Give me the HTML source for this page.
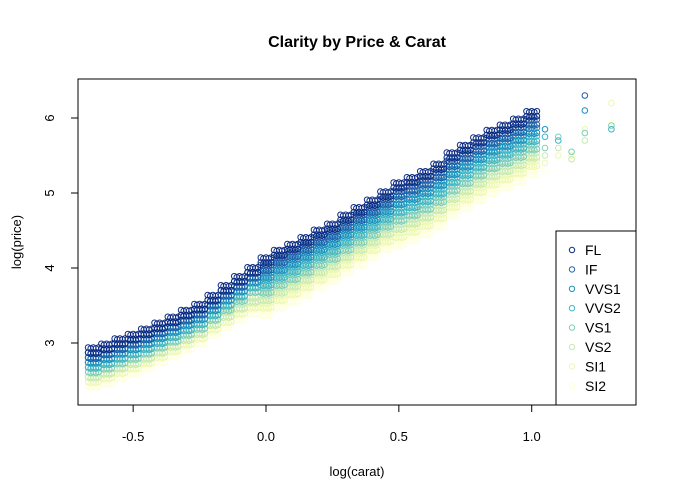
<!DOCTYPE html>
<html><head><meta charset="utf-8"><style>
html,body{margin:0;padding:0;background:#fff}
svg{display:block;font-family:"Liberation Sans",Arial,sans-serif}
</style></head><body>
<svg id="chart" width="675" height="502" viewBox="0 0 675 502">
<rect width="675" height="502" fill="#fff"/>
<text x="357" y="47" text-anchor="middle" font-size="16" font-weight="bold">Clarity by Price &amp; Carat</text>
<g id="points"></g>
<rect x="78" y="79" width="558" height="326" fill="none" stroke="#000"/>
<g id="xaxis"></g>
<g id="yaxis"></g>
<text x="357" y="476" text-anchor="middle" font-size="13">log(carat)</text>
<text transform="translate(21,242) rotate(-90)" text-anchor="middle" font-size="13">log(price)</text>
<g id="legend">
<rect x="556" y="231" width="80" height="174" fill="#fff" stroke="#000"/>
</g>
</svg>
<script>
const carat=[-0.65,-0.60,-0.55,-0.50,-0.45,-0.40,-0.35,-0.30,-0.25,-0.20,-0.15,-0.10,-0.05,0.00,0.05,0.10,0.15,0.20,0.25,0.30,0.35,0.40,0.45,0.50,0.55,0.60,0.65,0.70,0.75,0.80,0.85,0.90,0.95,1.00,1.05,1.10,1.15,1.20,1.25,1.30];
const clarities=["FL","IF","VVS1","VVS2","VS1","VS2","SI1","SI2"];
const colors=["#0C2C84","#225EA8","#1D91C0","#41B6C4","#7FCDBB","#C7E9B4","#EDF8B1","#FFFFD9"];
const priceFL=[2.90,2.95,3.02,3.08,3.15,3.23,3.31,3.40,3.48,3.60,3.73,3.85,3.97,4.10,4.20,4.28,4.37,4.47,4.55,4.67,4.77,4.87,4.98,5.10,5.17,5.25,5.35,5.50,5.60,5.70,5.80,5.87,5.95,6.05,null,null,null,null,null,null];
const priceIF=[2.83,2.88,2.95,3.01,3.08,3.16,3.24,3.33,3.41,3.53,3.66,3.78,3.90,4.00,4.10,4.18,4.27,4.37,4.45,4.57,4.67,4.77,4.88,4.99,5.06,5.14,5.24,5.39,5.49,5.59,5.69,5.76,5.84,5.94,null,null,null,6.30,null,null];
const priceVVS1=[2.77,2.82,2.89,2.95,3.02,3.10,3.18,3.27,3.35,3.47,3.60,3.72,3.84,3.90,4.00,4.08,4.17,4.27,4.35,4.47,4.57,4.67,4.78,4.88,4.95,5.03,5.13,5.28,5.38,5.48,5.58,5.65,5.73,5.83,5.85,null,null,6.10,null,null];
const priceVVS2=[2.70,2.75,2.82,2.88,2.95,3.03,3.11,3.20,3.28,3.40,3.53,3.65,3.77,3.80,3.90,3.98,4.07,4.17,4.25,4.37,4.47,4.57,4.68,4.77,4.84,4.92,5.02,5.17,5.27,5.37,5.47,5.54,5.62,5.72,5.75,5.70,null,null,null,5.85];
const priceVS1=[2.64,2.69,2.76,2.82,2.89,2.97,3.05,3.14,3.22,3.34,3.47,3.59,3.71,3.70,3.80,3.88,3.97,4.07,4.15,4.27,4.37,4.47,4.58,4.66,4.73,4.81,4.91,5.06,5.16,5.26,5.36,5.43,5.51,5.61,5.60,5.75,5.55,5.80,null,5.90];
const priceVS2=[2.57,2.62,2.69,2.75,2.82,2.90,2.98,3.07,3.15,3.27,3.38,3.49,3.58,3.60,3.70,3.78,3.87,3.97,4.05,4.17,4.27,4.37,4.48,4.55,4.62,4.70,4.80,4.95,5.05,5.15,5.25,5.32,5.40,5.50,5.50,5.60,5.45,5.70,null,null];
const priceSI1=[2.51,2.56,2.63,2.69,2.76,2.84,2.92,3.01,3.09,3.21,3.31,3.42,3.50,3.50,3.60,3.68,3.77,3.87,3.95,4.07,4.17,4.27,4.38,4.44,4.51,4.59,4.69,4.84,4.94,5.04,5.14,5.21,5.29,5.39,5.40,5.50,5.50,5.85,null,6.20];
const priceSI2=[2.44,2.49,2.56,2.62,2.69,2.77,2.85,2.94,3.02,3.13,3.24,3.34,3.42,3.40,3.50,3.58,3.67,3.77,3.85,3.97,4.07,4.17,4.28,4.33,4.40,4.48,4.58,4.73,4.83,4.93,5.03,5.10,5.18,5.28,5.30,null,null,null,null,5.95];
const xTicks=[-0.5,0.0,0.5,1.0];
const xTickLabels=["-0.5","0.0","0.5","1.0"];
const yTicks=[3,4,5,6];
const yTickLabels=["3","4","5","6"];

const NS="http://www.w3.org/2000/svg";
const series=[priceFL,priceIF,priceVVS1,priceVVS2,priceVS1,priceVS2,priceSI1,priceSI2];
function xs(v){return 266+v*265.7;}
function ys(v){return 568-v*75;}
function mk(tag,attrs,parent){const e=document.createElementNS(NS,tag);for(const k in attrs)e.setAttribute(k,attrs[k]);parent.appendChild(e);return e;}

const pg=document.getElementById('points');
const offs=[[-5.2,-3],[-2.6,3],[0,-3],[2.6,3],[5.2,-3],[-5.2,2],[-2.6,-2],[0,2],[2.6,-2],[5.2,2]];
for(let s=series.length-1;s>=0;s--){
  const g=mk('g',{},pg);
  
  
  series[s].forEach((v,i)=>{
    if(v===null)return;
    const cx=xs(carat[i]),cy=ys(v);
    const sparse=carat[i]>1.0;
    (sparse?[[0,0]]:offs).forEach(o=>{
      const c=mk('circle',{cx:cx+o[0],cy:cy+o[1],r:2.8,fill:'none',stroke:colors[s],'stroke-width':1},g);
      
      
    });
  });
}
const xa=document.getElementById('xaxis');
xTicks.forEach((t,i)=>{
  const x=xs(t);
  const l=mk('line',{x1:x,x2:x,y1:405,y2:412,stroke:'#000'},xa);
  
  
  const tx=mk('text',{x:x,y:441,'text-anchor':'middle','font-size':13},xa);
  tx.textContent=xTickLabels[i];
  
  
});
const ya=document.getElementById('yaxis');
yTicks.forEach((t,i)=>{
  const y=ys(t);
  const l=mk('line',{x1:71,x2:78,y1:y,y2:y,stroke:'#000'},ya);
  
  
  const tx=mk('text',{transform:'translate(54,'+y+') rotate(-90)','text-anchor':'middle','font-size':13},ya);
  tx.textContent=yTickLabels[i];
  
  
});
const lg=document.getElementById('legend');
clarities.forEach((c,i)=>{
  const y=250+i*19.4;
  const e=mk('g',{},lg);
  
  
  mk('circle',{cx:572,cy:y,r:2.7,fill:'none',stroke:colors[i],'stroke-width':1},e);
  const t=mk('text',{x:585,y:y+5,'font-size':14},e);
  t.textContent=c;
});
</script>
</body></html>
